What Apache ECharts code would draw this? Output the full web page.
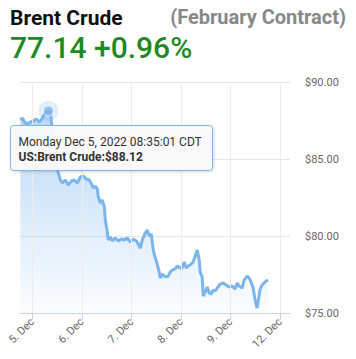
<!DOCTYPE html>
<html>
<head>
<meta charset="utf-8">
<script src="https://cdn.jsdelivr.net/npm/echarts@6/dist/echarts.min.js"></script>
<style>
html,body{margin:0;padding:0;background:#fff;}
#c{width:356px;height:359px;}
</style>
</head>
<body>
<div id="c"></div>
<script>
// Trading-day axis: 0 = 5 Dec, 1 = 6 Dec, ... 5 = 12 Dec
const dayLabels = ['5. Dec', '6. Dec', '7. Dec', '8. Dec', '9. Dec', '12. Dec'];
const dayTicks = [0, 1, 2, 3, 4, 5];
const priceTicks = [75, 80, 85, 90];

// time in trading days (fractional)
const times = [
  -0.242, -0.202, -0.161, -0.101, -0.040, 0.020, 0.081, 0.141, 0.202, 0.262,
  0.323, 0.363, 0.403, 0.444, 0.484, 0.524, 0.565, 0.605, 0.665, 0.726,
  0.786, 0.847, 0.907, 0.968, 1.028, 1.089, 1.149, 1.190, 1.230, 1.270,
  1.310, 1.331, 1.371, 1.411, 1.452, 1.472, 1.512, 1.532, 1.573, 1.613,
  1.673, 1.734, 1.794, 1.855, 1.915, 1.976, 2.036, 2.097, 2.137, 2.177,
  2.218, 2.278, 2.319, 2.359, 2.399, 2.440, 2.480, 2.520, 2.560, 2.581,
  2.621, 2.661, 2.702, 2.742, 2.782, 2.823, 2.883, 2.923, 2.984, 3.024,
  3.065, 3.105, 3.145, 3.185, 3.246, 3.286, 3.327, 3.367, 3.387, 3.427,
  3.448, 3.488, 3.528, 3.569, 3.609, 3.649, 3.690, 3.730, 3.790, 3.851,
  3.911, 3.972, 4.032, 4.093, 4.133, 4.173, 4.234, 4.274, 4.335, 4.375,
  4.415, 4.456, 4.496, 4.536, 4.556, 4.597, 4.637, 4.677, 4.718, 4.758
];
const prices = [
  87.53, 87.66, 87.40, 87.27, 87.40, 87.47, 87.60, 87.40, 87.66, 87.99,
  88.12, 88.05, 86.88, 85.58, 84.42, 84.09, 83.64, 83.44, 83.64, 83.31,
  83.57, 83.64, 83.44, 83.83, 83.90, 83.70, 83.64, 83.38, 83.12, 83.25,
  83.05, 82.53, 82.14, 82.34, 81.88, 81.04, 80.26, 79.74, 79.94, 79.68,
  79.87, 79.68, 79.81, 79.74, 79.87, 79.61, 79.81, 79.68, 79.48, 79.22,
  79.74, 80.19, 80.39, 80.00, 80.13, 79.09, 78.57, 78.18, 77.66, 77.27,
  77.53, 77.40, 77.34, 77.40, 77.66, 77.79, 77.86, 78.05, 77.92, 77.92,
  78.31, 77.92, 78.05, 78.12, 78.31, 78.70, 79.09, 78.44, 77.66, 77.34,
  76.10, 76.36, 76.69, 76.30, 76.23, 76.49, 76.43, 76.62, 76.88, 76.95,
  76.82, 76.69, 76.75, 76.56, 76.95, 76.75, 76.62, 77.14, 77.40, 77.27,
  77.01, 76.62, 75.84, 75.32, 75.71, 76.56, 76.82, 76.95, 77.08, 77.14
];

const hoverTime = 0.323;
const hoverPrice = 88.12;
const tooltipLine1 = 'Monday Dec 5, 2022 08:35:01 CDT';
const tooltipLine2 = 'US:Brent Crude:$88.12';

const titleMain = 'Brent Crude';
const titleSub = '(February Contract)';
const quoteText = '77.14 +0.96%';

const chart = echarts.init(document.getElementById('c'), null, {renderer: 'svg'});
const FONT = 'Roboto, "Open Sans", sans-serif';
const lineData = times.map((t, i) => [t, prices[i]]);

chart.setOption({
  animation: false,
  backgroundColor: '#ffffff',
  textStyle: {fontFamily: FONT},
  title: [
    {text: titleMain, left: 5, top: 2,
     textStyle: {fontFamily: FONT, fontSize: 21, fontWeight: 'bold', color: '#111'}},
    {text: titleSub, right: 5, top: 2,
     textStyle: {fontFamily: FONT, fontSize: 20, fontWeight: 'bold', color: '#888'}},
    {text: quoteText, left: 5, top: 27,
     textStyle: {fontFamily: FONT, fontSize: 30, fontWeight: 500, color: '#1f8a24'}}
  ],
  grid: {left: 20, right: 66, top: 82, bottom: 46},
  xAxis: {
    type: 'value', min: -0.25, max: 5.2,
    axisLine: {show: true, lineStyle: {color: '#ccd6eb'}},
    axisTick: {show: true, length: 7, customValues: dayTicks, lineStyle: {color: '#ccd6eb'}},
    axisLabel: {
      customValues: dayTicks, rotate: 45, margin: 7,
      fontSize: 11, color: '#666', fontFamily: FONT,
      formatter: v => dayLabels[Math.round(v)]
    },
    splitLine: {show: false}
  },
  yAxis: {
    type: 'value', position: 'right', min: 75, max: 90, interval: 5,
    axisLine: {show: false}, axisTick: {show: false},
    axisLabel: {margin: 15, fontSize: 11, color: '#666', fontFamily: FONT,
                formatter: v => '$' + v.toFixed(2)},
    splitLine: {lineStyle: {color: '#e6e6e6'}}
  },
  series: [
    {
      type: 'line', data: lineData, symbol: 'none', z: 3,
      lineStyle: {color: '#7cb5ec', width: 3},
      areaStyle: {
        color: new echarts.graphic.LinearGradient(0, 0, 0, 1, [
          {offset: 0, color: 'rgba(124,181,236,0.75)'},
          {offset: 1, color: 'rgba(124,181,236,0.04)'}
        ])
      },
      markLine: {
        silent: true, symbol: 'none', label: {show: false},
        lineStyle: {color: '#ececec', width: 1, type: 'solid'},
        data: dayTicks.map(d => ({xAxis: d}))
      }
    },
    {
      type: 'scatter', data: [[hoverTime, hoverPrice]], symbolSize: 20, z: 4,
      itemStyle: {color: 'rgba(124,181,236,0.3)'}, silent: true
    },
    {
      type: 'scatter', data: [[hoverTime, hoverPrice]], symbolSize: 10, z: 5,
      itemStyle: {color: '#7cb5ec', borderColor: '#ffffff', borderWidth: 1}, silent: true
    }
  ],
  graphic: {
    zlevel: 5, z: 100,
    elements: [
      {
        type: 'group', left: 10, top: 125, zlevel: 5, z: 100,
        children: [
          {type: 'rect', zlevel: 5, z: 100, shape: {x: 0, y: 0, width: 202, height: 45, r: 3},
           style: {fill: 'rgba(249,249,249,0.97)', stroke: '#7cb5ec', lineWidth: 1,
                   shadowBlur: 3, shadowOffsetX: 1, shadowOffsetY: 1, shadowColor: 'rgba(0,0,0,0.15)'}},
          {type: 'text', zlevel: 5, z: 101, x: 8, y: 16, style: {text: tooltipLine1, fontSize: 12, fontFamily: FONT,
            fill: '#333', verticalAlign: 'middle'}},
          {type: 'text', zlevel: 5, z: 101, x: 8, y: 31, style: {text: tooltipLine2, fontSize: 12, fontWeight: 'bold',
            fontFamily: FONT, fill: '#333', verticalAlign: 'middle'}}
        ]
      }
    ]
  }
});
</script>
</body>
</html>
